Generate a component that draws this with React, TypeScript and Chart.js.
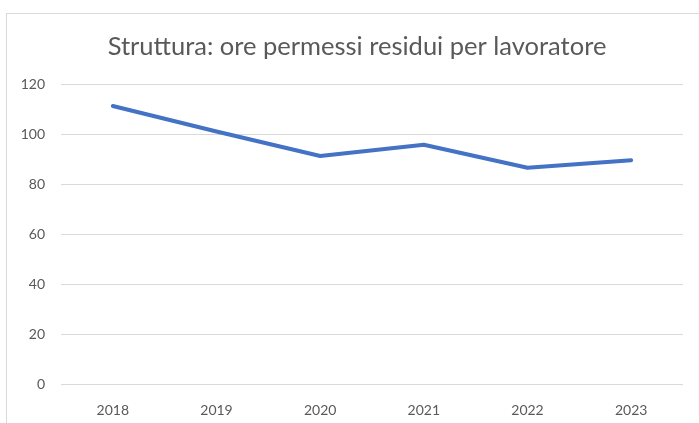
import React, { useEffect, useRef } from 'react';
import { Chart, registerables } from 'chart.js';

Chart.register(...registerables);

const years: string[] = ['2018', '2019', '2020', '2021', '2022', '2023'];
const hoursPerWorker: number[] = [111.2, 101, 91.2, 95.7, 86.5, 89.5];
const titleText = 'Struttura: ore permessi residui per lavoratore';
const yMin = 0;
const yMax = 120;
const yStep = 20;

const titleShift = {
  id: 'titleShift',
  afterLayout(chart: any) {
    const t = chart.titleBlock;
    if (t) {
      t.left += 31;
    }
  },
};

export default function App() {
  const canvasRef = useRef<HTMLCanvasElement | null>(null);

  useEffect(() => {
    const canvas = canvasRef.current;
    if (!canvas) return;
    const font = 'Lato, "Open Sans", sans-serif';
    const chart = new Chart(canvas, {
      type: 'line',
      data: {
        labels: years,
        datasets: [
          {
            data: hoursPerWorker,
            borderColor: '#4472C4',
            backgroundColor: '#4472C4',
            borderWidth: 4,
            borderCapStyle: 'round',
            borderJoinStyle: 'round',
            pointRadius: 0,
            pointHoverRadius: 0,
            tension: 0,
            fill: false,
          },
        ],
      },
      plugins: [titleShift],
      options: {
        responsive: false,
        animation: false,
        devicePixelRatio: 1,
        layout: { padding: { left: 0, right: 16, top: 0, bottom: 0 } },
        plugins: {
          legend: { display: false },
          tooltip: { enabled: false },
          title: {
            display: true,
            text: titleText,
            color: '#595959',
            font: { family: font, size: 25.5, weight: 'normal', lineHeight: 1.2 },
            padding: { top: 31.7, bottom: 21.7 },
          },
        },
        scales: {
          x: {
            offset: true,
            grid: { display: false, drawTicks: false, offset: true },
            border: { display: false },
            ticks: {
              color: '#595959',
              font: { family: font, size: 14 },
              padding: 18,
            },
            afterFit: (s: any) => {
              s.height = 39;
            },
          },
          y: {
            min: yMin,
            max: yMax,
            grid: { color: '#d9d9d9', lineWidth: 1, drawTicks: false },
            border: { display: false },
            ticks: {
              stepSize: yStep,
              color: '#595959',
              font: { family: font, size: 14 },
              padding: 16,
            },
            afterFit: (s: any) => {
              s.width = 61;
            },
          },
        },
      },
    });
    return () => chart.destroy();
  }, []);

  return (
    <div style={{ position: 'fixed', left: 0, top: 0, width: 699, height: 423, background: '#fff', overflow: 'hidden' }}>
      <div
        style={{
          position: 'absolute',
          left: 6,
          top: 13,
          width: 720,
          height: 440,
          borderLeft: '1px solid #d9d9d9',
          borderTop: '1px solid #d9d9d9',
        }}
      />
      <canvas ref={canvasRef} width={699} height={423} style={{ position: 'absolute', left: 0, top: 0, display: 'block' }} />
    </div>
  );
}
